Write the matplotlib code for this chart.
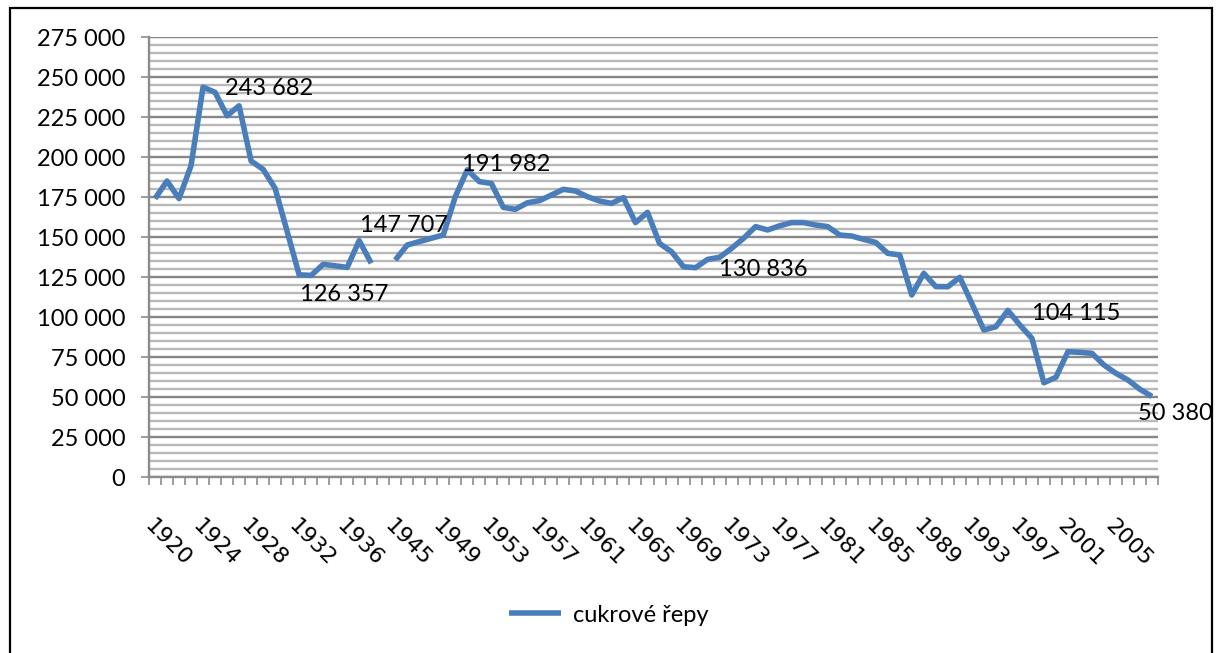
import numpy as np
import matplotlib
matplotlib.use("Agg")
import matplotlib.pyplot as plt
from matplotlib.ticker import FuncFormatter, MultipleLocator, FixedLocator
from matplotlib.patches import Rectangle

# categories (one blank category between 1938 and 1945)
years = [str(y) for y in range(1920, 1939)] + [""] + [str(y) for y in range(1945, 2009)]

values = [
    174000, 185000, 174000, 194600, 243682, 240400, 225800, 232000, 197500, 192300,
    180400, 153500, 126357, 126000, 132900, 132000, 131000, 147707, 133600,
    np.nan,
    135600, 145000, 147100, 149200, 151250, 175200, 191982, 184600, 183500, 168500,
    167300, 171400, 172700, 176250, 179800, 178750, 175200, 172500, 171000, 174600,
    159000, 165400, 146000, 140800, 131400, 130836, 136000, 137300, 142900, 149200,
    156500, 154400, 157000, 159000, 159000, 157500, 156500, 151250, 150600, 148500,
    146600, 139800, 138750, 113750, 127300, 119000, 118900, 124800, 108500, 91900,
    93900, 104115, 95000, 86700, 58900, 62300, 78300, 77900, 77300, 70000,
    64800, 60600, 54800, 50380,
]

series_name = "cukrové řepy"

# labelled points: (year, x offset px, y offset px)
labelled = [("1924", 22, -1), ("1932", 1, -20), ("1937", 1, 15), ("1951", -5, 5),
            ("1970", 23, -2), ("1996", 24, -3), ("2008", -14, -17)]


def fmt_space(v, pos=None):
    return f"{int(round(v)):,}".replace(",", " ")


plt.rcParams['font.family'] = ['Lato', 'DejaVu Sans']

fig = plt.figure(figsize=(12.17, 6.53), dpi=100)
ax = fig.add_axes([149 / 1217, 1 - 477 / 653, (1158 - 149) / 1217, (477 - 37) / 653])

x = np.arange(len(years))
ax.plot(x, values, color="#4A7EBB", lw=4.0, solid_joinstyle="round",
        solid_capstyle="butt", label=series_name, zorder=3)

for yr, dx, dy in labelled:
    i = years.index(yr)
    ax.annotate(fmt_space(values[i]), (i, values[i]), xytext=(dx, dy),
                textcoords="offset pixels", ha="left", va="center",
                fontsize=17, color="black", zorder=4)

ax.set_xlim(-0.5, len(years) - 0.5)
ax.set_ylim(0, 275000)

# y axis
ax.yaxis.set_major_locator(MultipleLocator(25000))
ax.yaxis.set_minor_locator(MultipleLocator(5000))
ax.yaxis.set_major_formatter(FuncFormatter(fmt_space))
ax.grid(which="major", axis="y", color="#878787", lw=1.7, zorder=1)
ax.grid(which="minor", axis="y", color="#B8B8B8", lw=1.7, zorder=1)
ax.tick_params(axis="y", which="major", length=6, width=1.2, color="#8C8C8C",
               labelsize=17, pad=11)
ax.tick_params(axis="y", which="minor", length=0)

# x axis: tick marks between categories, labels every 4th category
ax.xaxis.set_minor_locator(FixedLocator(np.arange(-0.5, len(years), 1.0)))
ax.xaxis.set_major_locator(FixedLocator(x[::4]))
ax.set_xticklabels([years[i] for i in x[::4]], rotation=-45, ha="left",
                   va="top", rotation_mode="anchor", family="DejaVu Sans")
ax.tick_params(axis="x", which="major", length=0, labelsize=16, pad=28)
ax.tick_params(axis="x", which="minor", length=6, width=1.2, color="#8C8C8C")

for s in ["top", "right"]:
    ax.spines[s].set_visible(False)
for s in ["left", "bottom"]:
    ax.spines[s].set_color("#8C8C8C")
    ax.spines[s].set_linewidth(1.7)

fig.legend(loc="center", bbox_to_anchor=(0.5, 1 - 615 / 653), frameon=False,
           fontsize=17, handlelength=2.2, handletextpad=0.5)

# outer chart frame
fig.patches.append(Rectangle((10 / 1217, -0.02), 1202 / 1217, 1 - 8 / 653 + 0.02,
                             transform=fig.transFigure, fill=False,
                             edgecolor="black", lw=1.6))

fig.savefig("out.png", dpi=100)
